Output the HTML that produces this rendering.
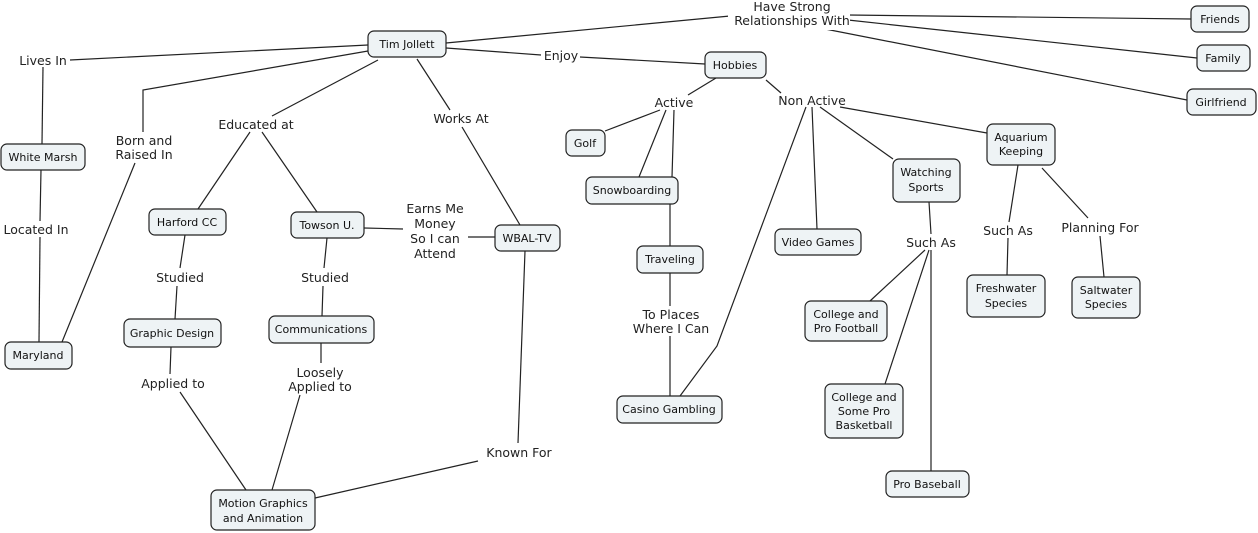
<!DOCTYPE html>
<html><head><meta charset="utf-8"><style>
html,body{margin:0;padding:0;background:#fff;width:1258px;height:533px;overflow:hidden}
svg{display:block}
.n rect{fill:#eef3f5;stroke:#222;stroke-width:1.2}
.n text{font-family:"DejaVu Sans","Liberation Sans",sans-serif;font-size:11px;fill:#111;text-anchor:middle}
.l{font-family:"DejaVu Sans","Liberation Sans",sans-serif;font-size:12.5px;fill:#222;text-anchor:middle}
line,polyline{stroke:#222;stroke-width:1.2;fill:none}
</style></head><body>
<svg width="1258" height="533" viewBox="0 0 1258 533">
<g>
<line x1="446" y1="43" x2="730" y2="16"/>
<line x1="848" y1="15" x2="1191" y2="19"/>
<line x1="848" y1="20" x2="1197" y2="58"/>
<line x1="820" y1="28" x2="1187" y2="100"/>
<line x1="368" y1="45" x2="70" y2="60"/>
<line x1="43" y1="67" x2="42" y2="144"/>
<line x1="41" y1="170" x2="40" y2="221"/>
<line x1="40" y1="237" x2="39" y2="342"/>
<polyline points="368,51 143,90 143,132"/>
<line x1="135" y1="163" x2="62" y2="342"/>
<line x1="378" y1="60" x2="272" y2="116"/>
<line x1="250" y1="132" x2="198" y2="209"/>
<line x1="262" y1="132" x2="317" y2="212"/>
<line x1="185" y1="235" x2="180" y2="268"/>
<line x1="177" y1="286" x2="175" y2="319"/>
<line x1="327" y1="238" x2="324" y2="268"/>
<line x1="323" y1="286" x2="322" y2="316"/>
<line x1="364" y1="228" x2="403" y2="229"/>
<line x1="468" y1="237" x2="495" y2="237"/>
<line x1="417" y1="59" x2="450" y2="110"/>
<line x1="462" y1="127" x2="520" y2="225"/>
<line x1="525" y1="251" x2="518" y2="443"/>
<line x1="478" y1="461" x2="315" y2="498"/>
<line x1="171" y1="347" x2="170" y2="374"/>
<line x1="180" y1="392" x2="246" y2="490"/>
<line x1="321" y1="343" x2="321" y2="363"/>
<line x1="300" y1="395" x2="272" y2="490"/>
<line x1="446" y1="48" x2="541" y2="55"/>
<line x1="580" y1="57" x2="705" y2="64"/>
<line x1="716" y1="78" x2="688" y2="95"/>
<line x1="766" y1="80" x2="781" y2="93"/>
<line x1="660" y1="110" x2="605" y2="131"/>
<line x1="666" y1="110" x2="639" y2="177"/>
<line x1="674" y1="110" x2="672" y2="177"/>
<line x1="670" y1="204" x2="670" y2="246"/>
<line x1="670" y1="273" x2="670" y2="306"/>
<line x1="670" y1="336" x2="670" y2="396"/>
<polyline points="806,107 717,346 680,396"/>
<line x1="812" y1="107" x2="817" y2="229"/>
<line x1="820" y1="107" x2="893" y2="159"/>
<line x1="840" y1="107" x2="987" y2="133"/>
<line x1="929" y1="202" x2="931" y2="234"/>
<line x1="925" y1="250" x2="870" y2="301"/>
<line x1="929" y1="250" x2="885" y2="384"/>
<line x1="931" y1="250" x2="931" y2="471"/>
<line x1="1018" y1="165" x2="1009" y2="222"/>
<line x1="1008" y1="238" x2="1007" y2="275"/>
<line x1="1042" y1="168" x2="1088" y2="218"/>
<line x1="1100" y1="236" x2="1104" y2="277"/>
</g>
<g>
<rect x="728" y="0" width="122" height="30" fill="#fff"/>
<text class="l" x="792" y="11">Have Strong</text>
<text class="l" x="792" y="25">Relationships With</text>
<text class="l" x="43" y="65">Lives In</text>
<text class="l" x="561" y="60">Enjoy</text>
<text class="l" x="144" y="145">Born and</text>
<text class="l" x="144" y="159">Raised In</text>
<text class="l" x="256" y="129">Educated at</text>
<text class="l" x="461" y="123">Works At</text>
<text class="l" x="36" y="234">Located In</text>
<text class="l" x="180" y="282">Studied</text>
<text class="l" x="325" y="282">Studied</text>
<text class="l" x="435" y="213">Earns Me</text>
<text class="l" x="435" y="228">Money</text>
<text class="l" x="435" y="243">So I can</text>
<text class="l" x="435" y="258">Attend</text>
<text class="l" x="173" y="388">Applied to</text>
<text class="l" x="320" y="377">Loosely</text>
<text class="l" x="320" y="391">Applied to</text>
<text class="l" x="519" y="457">Known For</text>
<text class="l" x="674" y="107">Active</text>
<text class="l" x="812" y="105">Non Active</text>
<text class="l" x="671" y="319">To Places</text>
<text class="l" x="671" y="333">Where I Can</text>
<text class="l" x="931" y="247">Such As</text>
<text class="l" x="1008" y="235">Such As</text>
<text class="l" x="1100" y="232">Planning For</text>
</g>
<g class="n">
<rect x="368" y="31" width="78" height="26" rx="6"/><text x="407" y="48">Tim Jollett</text>
<rect x="705" y="52" width="61" height="26" rx="6"/><text x="735" y="69">Hobbies</text>
<rect x="1191" y="6" width="58" height="26" rx="6"/><text x="1220" y="23">Friends</text>
<rect x="1197" y="45" width="53" height="26" rx="6"/><text x="1223" y="62">Family</text>
<rect x="1187" y="89" width="69" height="26" rx="6"/><text x="1221" y="106">Girlfriend</text>
<rect x="1" y="144" width="84" height="26" rx="6"/><text x="43" y="161">White Marsh</text>
<rect x="5" y="342" width="67" height="27" rx="6"/><text x="38" y="359">Maryland</text>
<rect x="149" y="209" width="77" height="26" rx="6"/><text x="187" y="226">Harford CC</text>
<rect x="291" y="212" width="73" height="26" rx="6"/><text x="327" y="229">Towson U.</text>
<rect x="495" y="225" width="65" height="26" rx="6"/><text x="527" y="242">WBAL-TV</text>
<rect x="124" y="319" width="97" height="28" rx="6"/><text x="172" y="337">Graphic Design</text>
<rect x="269" y="316" width="105" height="27" rx="6"/><text x="321" y="333">Communications</text>
<rect x="211" y="490" width="104" height="40" rx="6"/><text x="263" y="507">Motion Graphics</text><text x="263" y="522">and Animation</text>
<rect x="566" y="130" width="39" height="26" rx="6"/><text x="585" y="147">Golf</text>
<rect x="586" y="177" width="92" height="27" rx="6"/><text x="632" y="194">Snowboarding</text>
<rect x="637" y="246" width="66" height="27" rx="6"/><text x="670" y="263">Traveling</text>
<rect x="617" y="396" width="105" height="27" rx="6"/><text x="669" y="413">Casino Gambling</text>
<rect x="775" y="229" width="86" height="26" rx="6"/><text x="818" y="246">Video Games</text>
<rect x="893" y="159" width="67" height="43" rx="6"/><text x="926" y="176">Watching</text><text x="926" y="191">Sports</text>
<rect x="805" y="301" width="82" height="40" rx="6"/><text x="846" y="318">College and</text><text x="846" y="332">Pro Football</text>
<rect x="825" y="384" width="78" height="54" rx="6"/><text x="864" y="401">College and</text><text x="864" y="415">Some Pro</text><text x="864" y="429">Basketball</text>
<rect x="886" y="471" width="83" height="26" rx="6"/><text x="927" y="488">Pro Baseball</text>
<rect x="987" y="124" width="68" height="41" rx="6"/><text x="1021" y="141">Aquarium</text><text x="1021" y="155">Keeping</text>
<rect x="967" y="275" width="78" height="42" rx="6"/><text x="1006" y="292">Freshwater</text><text x="1006" y="307">Species</text>
<rect x="1072" y="277" width="68" height="41" rx="6"/><text x="1106" y="294">Saltwater</text><text x="1106" y="308">Species</text>
</g>
</svg>
</body></html>
